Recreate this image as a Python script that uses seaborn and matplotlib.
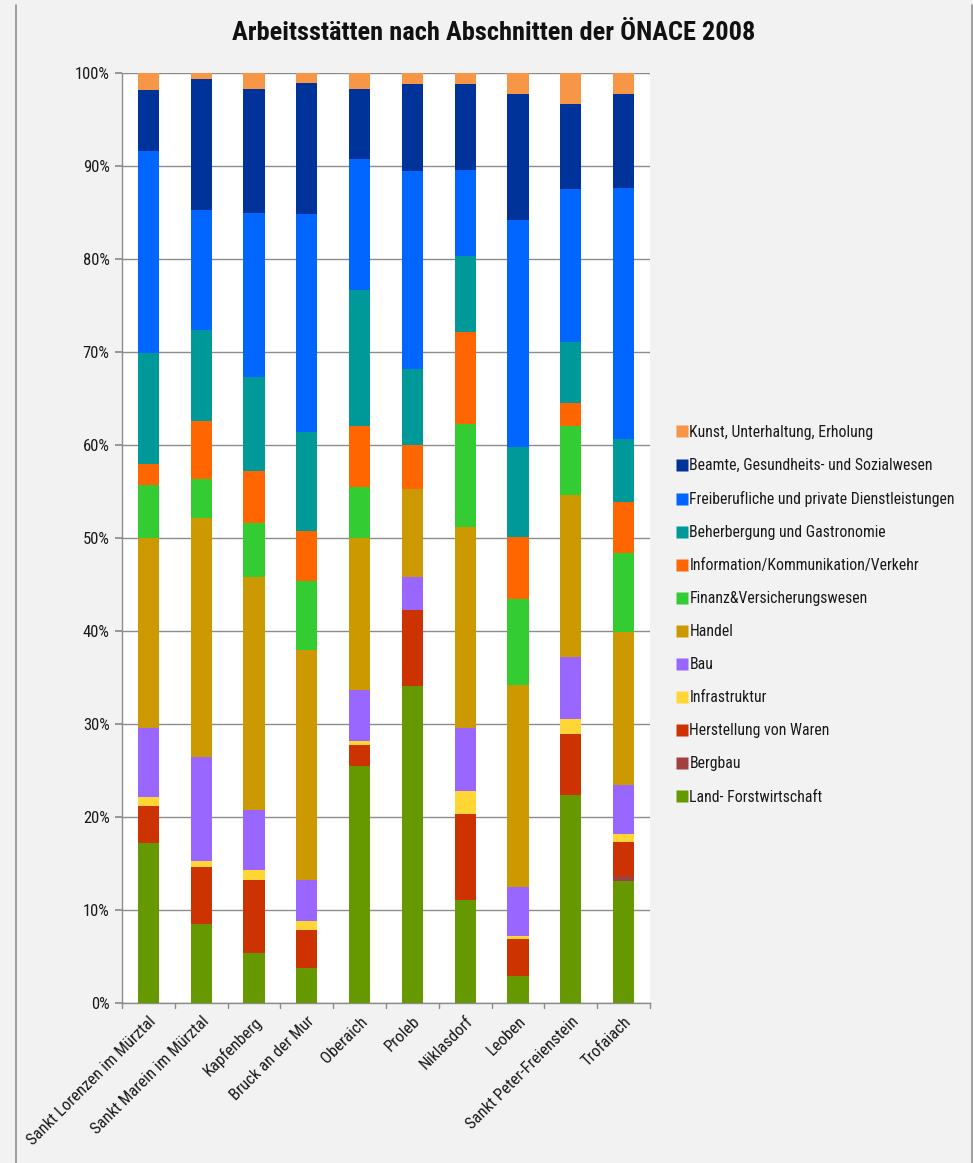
import matplotlib
matplotlib.use("Agg")
import matplotlib.pyplot as plt
import seaborn as sns
import numpy as np
import pandas as pd
import os
from matplotlib import font_manager
from matplotlib.font_manager import FontProperties
from matplotlib.lines import Line2D
from matplotlib.ticker import PercentFormatter

orte = ["Sankt Lorenzen im Mürztal", "Sankt Marein im Mürztal", "Kapfenberg",
        "Bruck an der Mur", "Oberaich", "Proleb", "Niklasdorf", "Leoben",
        "Sankt Peter-Freienstein", "Trofaiach"]

land = [17.2, 8.5, 5.4, 3.7, 25.5, 34.1, 11.1, 2.9, 22.3, 13.1]
bergbau = [0, 0, 0, 0, 0, 0, 0, 0, 0, 0.5]
herstellung = [4.0, 6.1, 7.8, 4.1, 2.2, 8.2, 9.2, 4.0, 6.6, 3.7]
infrastruktur = [0.9, 0.7, 1.1, 1.0, 0.5, 0.0, 2.5, 0.3, 1.6, 0.9]
bau = [7.5, 11.1, 6.4, 4.4, 5.5, 3.5, 6.8, 5.2, 6.7, 5.2]
handel = [20.4, 25.7, 25.1, 24.8, 16.3, 9.5, 21.6, 21.8, 17.4, 16.5]
finanz = [5.7, 4.3, 5.8, 7.4, 5.5, 0.0, 11.1, 9.2, 7.4, 8.5]
info = [2.3, 6.2, 5.6, 5.4, 6.5, 4.7, 9.9, 6.7, 2.5, 5.5]
beherbergung = [11.9, 9.8, 10.1, 10.6, 14.7, 8.2, 8.1, 9.7, 6.6, 6.7]
freiberuf = [21.7, 12.9, 17.7, 23.5, 14.1, 21.3, 9.3, 24.4, 16.5, 27.1]
beamte = [6.6, 14.1, 13.3, 14.0, 7.5, 9.3, 9.2, 13.6, 9.1, 10.1]
kunst = [1.8, 0.6, 1.7, 1.1, 1.7, 1.2, 1.2, 2.2, 3.3, 2.2]

serien = ["Land- Forstwirtschaft", "Bergbau", "Herstellung von Waren", "Infrastruktur",
          "Bau", "Handel", "Finanz&Versicherungswesen", "Information/Kommunikation/Verkehr",
          "Beherbergung und Gastronomie", "Freiberufliche und private Dienstleistungen",
          "Beamte, Gesundheits- und Sozialwesen", "Kunst, Unterhaltung, Erholung"]
werte = [land, bergbau, herstellung, infrastruktur, bau, handel, finanz, info,
         beherbergung, freiberuf, beamte, kunst]
farben = ["#669900", "#a04040", "#cc3300", "#ffd633", "#9966ff", "#cc9900",
          "#33cc33", "#ff6600", "#009999", "#0066ff", "#003399", "#f79646"]

sns.set_theme(style="white")
plt.rcParams["font.family"] = ["Liberation Sans", "DejaVu Sans"]

# look for a condensed / narrow font on the system
files = set(font_manager.findSystemFonts()) | {f.fname for f in font_manager.fontManager.ttflist}
def pick(prefs, bold):
    for p in prefs:
        for f in sorted(files):
            b = os.path.basename(f).lower()
            if p in b and ("italic" not in b and "oblique" not in b):
                isbold = "bold" in b
                if isbold == bold and "light" not in b and "semi" not in b and "extra" not in b and "black" not in b and "thin" not in b and "medium" not in b:
                    return f
    return None
prefs = ["liberationsansnarrow", "robotocondensed", "opensanscondensed",
         "dejavusanscondensed", "condensed", "narrow"]
f_reg = pick(prefs, False)
f_bold = pick(prefs, True)
narrow = f_reg is not None
fp_reg = FontProperties(fname=f_reg) if f_reg else FontProperties(family=["Liberation Sans", "DejaVu Sans"])
fp_bold = FontProperties(fname=f_bold) if f_bold else FontProperties(family=["Liberation Sans", "DejaVu Sans"], weight="bold")

fig = plt.figure(figsize=(9.73, 11.63), dpi=100, facecolor="#f2f2f2")
ax = fig.add_axes([0.1254, 0.1378, 0.5426, 0.7992])
ax.set_facecolor("white")

df = pd.DataFrame({s: v for s, v in zip(serien, werte)}, index=orte)
pct = df.div(df.sum(axis=1), axis=0) * 100

tops = []
cum = np.zeros(len(orte))
for s in serien:
    cum = cum + pct[s].values
    tops.append(cum.copy())
for s, c, t in reversed(list(zip(serien, farben, tops))):
    sns.barplot(x=orte, y=t, color=c, width=0.4, ax=ax, saturation=1,
                edgecolor="none", linewidth=0, zorder=3)

ax.set_ylim(0, 100)
ax.set_xlim(-0.5, len(orte) - 0.5)
ax.yaxis.set_major_formatter(PercentFormatter(decimals=0))
ax.set_yticks(np.arange(0, 101, 10))
ax.grid(axis="y", color="#8c8c8c", linewidth=1.0, zorder=0)
ax.set_axisbelow(True)
for sp in ["top", "right"]:
    ax.spines[sp].set_visible(False)
for sp in ["left", "bottom"]:
    ax.spines[sp].set_color("#8c8c8c")
    ax.spines[sp].set_linewidth(1.0)

ts = 12 if narrow else 10.5
ax.set_xticks(np.arange(len(orte)))
ax.set_xticklabels(orte, rotation=45, ha="right", rotation_mode="anchor")
ax.tick_params(axis="x", length=0, pad=8)
ax.tick_params(axis="y", length=5, color="#8c8c8c", pad=4, left=True)
for lab in ax.get_xticklabels() + ax.get_yticklabels():
    lab.set_fontproperties(fp_reg)
    lab.set_fontsize(ts)
    lab.set_color("#1a1a1a")
for xb in np.arange(-0.5, len(orte)):
    ax.plot([xb, xb], [0, -0.6], color="#8c8c8c", lw=1.0, clip_on=False, zorder=5)
ax.set_xlabel("")
ax.set_ylabel("")

t = fig.text(0.507, 0.972, "Arbeitsstätten nach Abschnitten der ÖNACE 2008",
             ha="center", va="center", color="#111111")
t.set_fontproperties(fp_bold)
t.set_fontsize(19 if narrow else 18)
if not f_bold:
    t.set_fontweight("bold")

handles = [Line2D([0], [0], marker="s", linestyle="none", markersize=9,
                  markerfacecolor=c, markeredgecolor="none") for c in farben]
lp = fp_reg.copy()
lp.set_size(11.3 if narrow else 10.2)
leg = fig.legend(handles[::-1], serien[::-1], loc="upper left",
                 bbox_to_anchor=(0.686, 0.640), frameon=False, prop=lp,
                 handletextpad=0.0, labelspacing=1.15 if narrow else 1.2,
                 handlelength=1.0, borderaxespad=0)
for txt in leg.get_texts():
    txt.set_color("#1a1a1a")

fig.add_artist(Line2D([16 / 973, 16 / 973], [0, 1 - 5 / 1163], color="#909090", lw=1.2,
                      transform=fig.transFigure))
fig.add_artist(Line2D([971.5 / 973, 971.5 / 973], [0, 1 - 5 / 1163], color="#909090", lw=1.2,
                      transform=fig.transFigure))

fig.savefig("out.png", dpi=100, facecolor=fig.get_facecolor())
